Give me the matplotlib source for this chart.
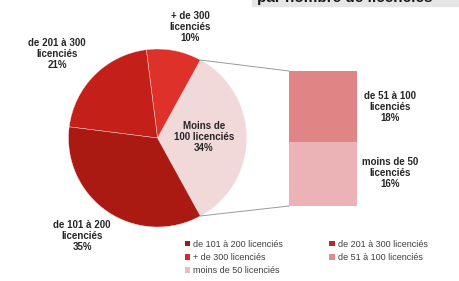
import matplotlib.pyplot as plt
from matplotlib.patches import Rectangle, Patch
import numpy as np

plt.rcParams['font.family'] = ['Liberation Sans', 'DejaVu Sans']

# pie: share of clubs by number of licensees
pie_labels = ["Moins de\n100 licenciés", "+ de 300\nlicenciés", "de 201 à 300\nlicenciés", "de 101 à 200\nlicenciés"]
pie_values = [34, 10, 21, 35]
pie_colors = ["#f1d9da", "#de3129", "#c42019", "#aa1912"]

# bar: breakdown of the "Moins de 100" slice
bar_labels = ["moins de 50\nlicenciés", "de 51 à 100\nlicenciés"]
bar_values = [16, 18]
bar_colors = ["#ebb3b6", "#e08486"]

legend_labels = ["de 101 à 200 licenciés", "+ de 300 licenciés", "moins de 50 licenciés",
                 "de 201 à 300 licenciés", "de 51 à 100 licenciés"]
legend_colors = ["#9e1b1b", "#d42b2a", "#e9bcc2", "#c0262b", "#e08c90"]

W, H = 460, 281
fig = plt.figure(figsize=(W / 100, H / 100), dpi=100)
ax = fig.add_axes([0, 0, 1, 1])


def Y(y):
    return H - y


cx, cy, r = 157.5, Y(138), 89
start = -61.2
wedges, _ = ax.pie(pie_values, colors=pie_colors, startangle=start, counterclock=True,
                   center=(cx, cy), radius=r, frame=True,
                   wedgeprops=dict(linewidth=0.3, edgecolor="#f4e4e4"))
ax.set_xlim(0, W)
ax.set_ylim(0, H)
ax.set_aspect('auto')
ax.axis('off')

txt = dict(ha='center', va='center', fontsize=7, fontweight='bold', color='#262626', linespacing=1.15)
pct = [f"{v}%" for v in pie_values]
pie_text_pos = [(204, 137), (190, 27), (57, 54), (82, 236)]
for lab, p, (x, y) in zip(pie_labels, pct, pie_text_pos):
    ax.text(x, Y(y), f"{lab}\n{p}", **txt)

# bar of pie
bx, bw = 289, 68
top, bottom = 71, 206
scale = (bottom - top) / sum(bar_values)
base = Y(bottom)
bar_text_y = [173, 107]
for v, c, lab, ty in zip(bar_values, bar_colors, bar_labels, bar_text_y):
    ax.bar(bx + bw / 2, v * scale, width=bw, bottom=base, color=c, edgecolor='none')
    base += v * scale
    ax.text(390, Y(ty), f"{lab}\n{v}%", **txt)

# connector lines from the slice edges to the bar
w0 = wedges[0]
for ang, by in [(w0.theta2, Y(top)), (w0.theta1, Y(bottom))]:
    px = cx + r * np.cos(np.radians(ang))
    py = cy + r * np.sin(np.radians(ang))
    ax.plot([px, bx], [py, by], color='#9a9a9a', linewidth=0.7)

# cropped title
ax.add_patch(Rectangle((252, Y(6)), W - 252, 10, color='#e6e6e6', zorder=0))
ax.text(257, Y(2), "par nombre de licenciés", fontsize=11, fontweight='bold',
        color='#1a1a1a', ha='left', va='baseline', clip_on=True)

handles = [Patch(facecolor=c, edgecolor='none') for c in legend_colors]
fig.legend(handles, legend_labels, ncol=2, loc='upper left', bbox_to_anchor=(183 / W, 1 - 238 / H),
           frameon=False, fontsize=6.5, handlelength=0.6, handleheight=0.6, handletextpad=0.35,
           labelspacing=0.45, columnspacing=5.1, labelcolor='#404040', borderaxespad=0, borderpad=0.2)

fig.savefig("out.png", dpi=100)
